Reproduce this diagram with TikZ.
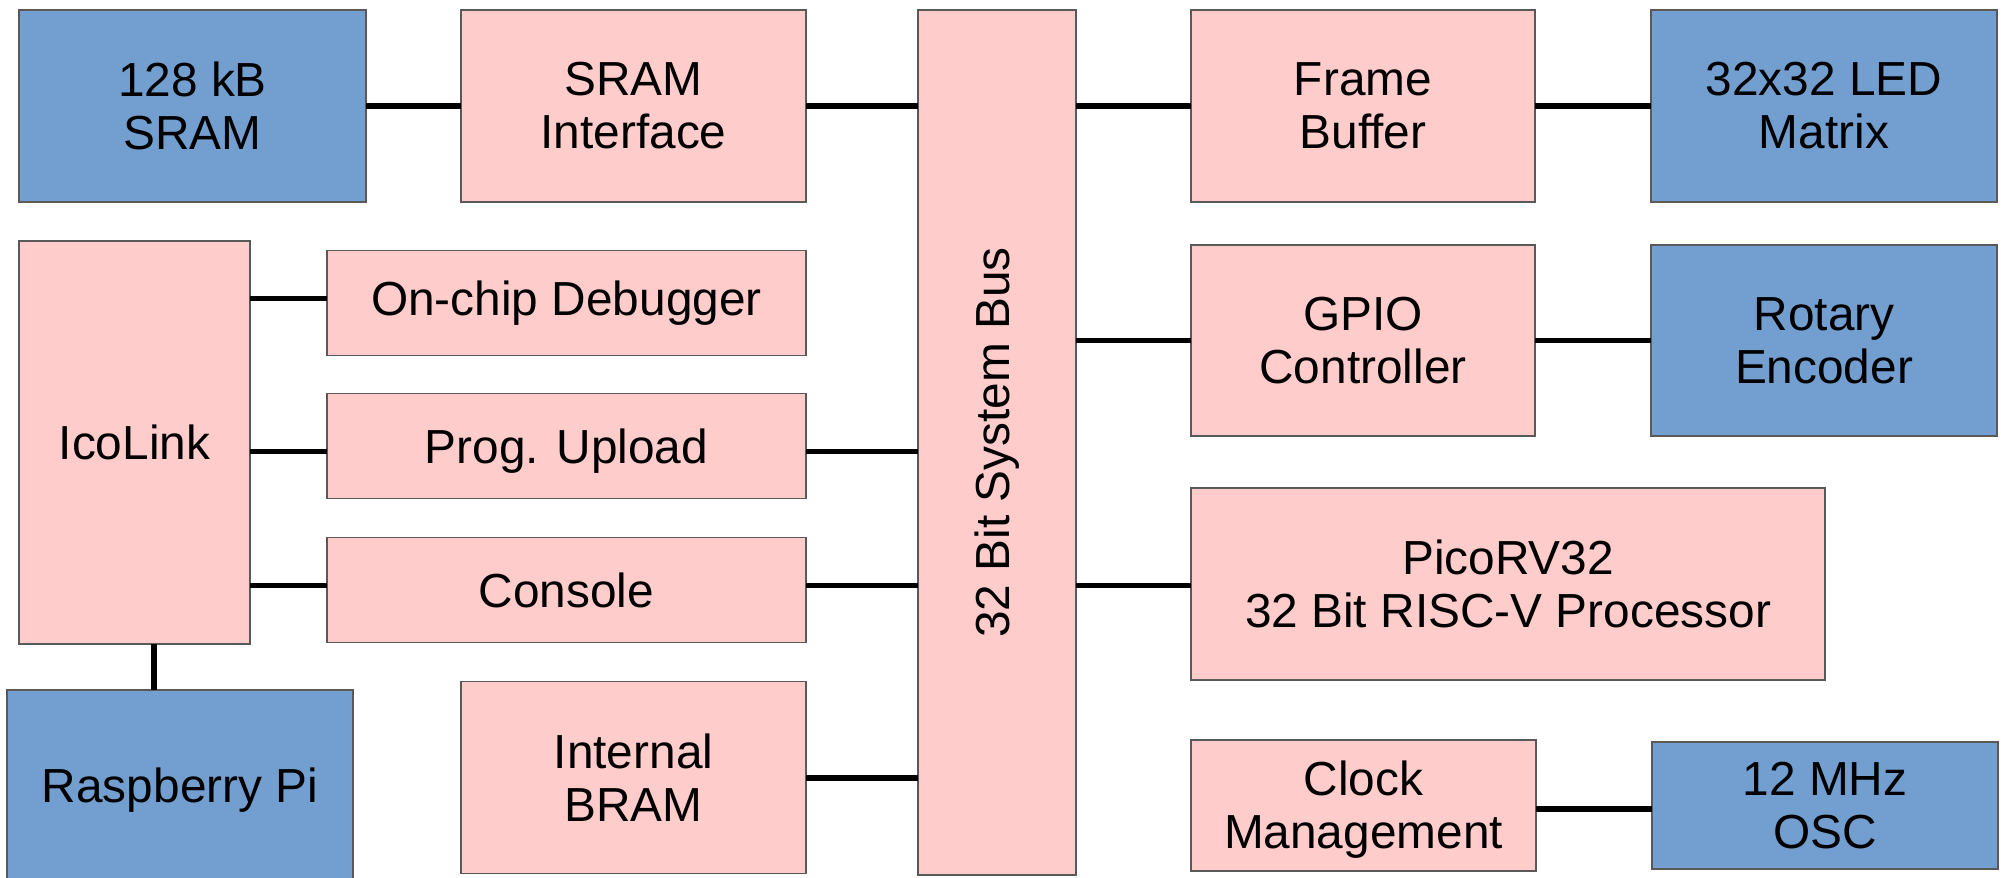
\documentclass[tikz,border=0pt]{standalone}
\usepackage{fontspec}
\setmainfont{Liberation Sans}
\usepackage{graphicx}
\usetikzlibrary{positioning}
\definecolor{skyblue}{HTML}{729FCF}
\definecolor{rosepink}{HTML}{FFCCCC}

\begin{document}
\begin{tikzpicture}[
    block/.style={rectangle, draw=black!65, line width=0.35pt, inner sep=0pt, outer sep=0pt, text centered, align=center, font=\fontsize{13.6}{15.1}\selectfont},
    ext/.style={block, fill=skyblue},
    core/.style={block, fill=rosepink},
    link/.style={line width=1.6pt, black},
]
\useasboundingbox (0,0) rectangle (20.01,-8.77);

% Blocks
\node (sram) [ext, minimum width=3.47cm, minimum height=1.92cm] at (1.925,-1.06) {128 kB\\SRAM};
\node (sramIf) [core, minimum width=3.45cm, minimum height=1.92cm, right=0.95cm of sram] {SRAM\\Interface};
\node (sysBus) [core, minimum width=1.58cm, minimum height=8.65cm, anchor=north west] at (9.18,-0.10) {\rotatebox{90}{32 Bit System Bus}};
\node (frameBuf) [core, minimum width=3.44cm, minimum height=1.92cm] at (13.63,-1.06) {Frame\\Buffer};
\node (ledMatrix) [ext, minimum width=3.46cm, minimum height=1.92cm, right=1.16cm of frameBuf] {32x32 LED\\Matrix};
\node (gpio) [core, minimum width=3.44cm, minimum height=1.91cm] at (13.63,-3.405) {GPIO\\Controller};
\node (rotEnc) [ext, minimum width=3.46cm, minimum height=1.91cm, right=1.16cm of gpio] {Rotary\\Encoder};
\node (picoRV) [core, minimum width=6.34cm, minimum height=1.92cm, below=0.52cm of gpio.south west, anchor=north west] {PicoRV32\\32 Bit RISC-V Processor};
\node (clockMgmt) [core, minimum width=3.45cm, minimum height=1.31cm, below=0.60cm of picoRV.south west, anchor=north west] {\rule{0pt}{12.3pt}Clock\\Management};
\node (osc) [ext, minimum width=3.46cm, minimum height=1.27cm, right=1.16cm of clockMgmt] {12 MHz\\OSC};

\node (icoLink) [core, minimum width=2.31cm, minimum height=4.03cm] at (1.345,-4.425) {IcoLink};
\node (debugger) [core, minimum width=4.79cm, minimum height=1.05cm] at (5.665,-3.033) {On-chip Debugger};
\node (progUpload) [core, minimum width=4.79cm, minimum height=1.05cm, below=0.38cm of debugger] {\rule{0pt}{12.8pt}Prog. Upload};
\node (console) [core, minimum width=4.79cm, minimum height=1.05cm, below=0.39cm of progUpload] {Console};
\node (bram) [core, minimum width=3.45cm, minimum height=1.92cm, below=0.39cm of console.south east, anchor=north east] {Internal\\BRAM};
\node (raspPi) [ext, minimum width=3.46cm, minimum height=2.0cm, anchor=north] at (1.80,-6.90) {Raspberry Pi};

% Connection points
\coordinate (dbgIn) at ([yshift=0.05cm]debugger.west);
\coordinate (progIn) at ([yshift=-0.05cm]progUpload.west);
\coordinate (progOut) at ([yshift=-0.05cm]progUpload.east);
\coordinate (conIn) at ([yshift=0.05cm]console.west);
\coordinate (conOut) at ([yshift=0.05cm]console.east);
\coordinate (clkOut) at ([yshift=-0.035cm]clockMgmt.east);
\coordinate (piLink) at ([xshift=0.195cm]icoLink.south);

% Links
\draw [link] (sram.east) -- (sramIf.west);
\draw [link] (sramIf.east) -- (sysBus.west |- sramIf.east);
\draw [link] (sysBus.east |- frameBuf.west) -- (frameBuf.west);
\draw [link] (frameBuf.east) -- (ledMatrix.west);
\draw [link] (sysBus.east |- gpio.west) -- (gpio.west);
\draw [link] (gpio.east) -- (rotEnc.west);
\draw [link] (sysBus.east |- conOut) -- (picoRV.west |- conOut);
\draw [link] (clkOut) -- (osc.west |- clkOut);

\draw [link] (icoLink.east |- dbgIn) -- (dbgIn);
\draw [link] (icoLink.east |- progIn) -- (progIn);
\draw [link] (progOut) -- (sysBus.west |- progOut);
\draw [link] (icoLink.east |- conIn) -- (conIn);
\draw [link] (conOut) -- (sysBus.west |- conOut);
\draw [link] (bram.east) -- (sysBus.west |- bram.east);
\draw [link] (piLink) -- (piLink |- raspPi.north);

\end{tikzpicture}
\end{document}
